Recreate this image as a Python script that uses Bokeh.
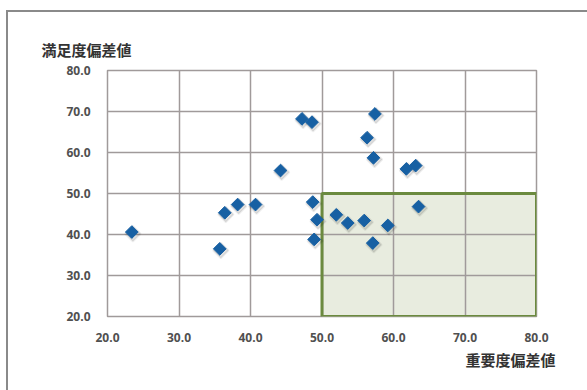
from bokeh.plotting import figure
from bokeh.models import (FixedTicker, PrintfTickFormatter, Range1d, Title,
                          ColumnDataSource)
from bokeh.transform import dodge
from bokeh.embed import file_html
from bokeh.resources import INLINE
import numpy as np

# importance (x) and satisfaction (y) deviation scores per item
importance = [23.4, 35.7, 36.4, 38.2, 40.7,
              44.2, 47.2, 48.6, 57.4, 56.3, 57.2, 61.8, 63.1,
              48.7, 49.3, 48.9, 52.0, 53.6, 55.9, 59.2, 57.1, 63.5]
satisfaction = [40.6, 36.5, 45.3, 47.3, 47.3,
                55.6, 68.2, 67.4, 69.4, 63.6, 58.7, 56.0, 56.8,
                47.9, 43.6, 38.8, 44.8, 42.8, 43.4, 42.2, 37.9, 46.8]

# highlighted zone: high importance, low satisfaction
zone_x = [50.0, 80.0]
zone_y = [20.0, 50.0]

ticks = [20, 30, 40, 50, 60, 70, 80]
x_title = "重要度偏差値"
y_title = "満足度偏差値"

src = ColumnDataSource(dict(x=importance, y=satisfaction))

# the panel sits 6px in / 10px down with a grey top & left border
p = figure(width=581, height=380, output_backend="svg", toolbar_location=None,
           x_range=Range1d(20, 80), y_range=Range1d(20, 80),
           min_border_left=99, min_border_right=53,
           min_border_top=58, min_border_bottom=76,
           styles={"position": "absolute", "left": "6px", "top": "10px",
                   "border-top": "2px solid #8a8a8a",
                   "border-left": "2px solid #8a8a8a"})
p.background_fill_color = "white"
p.border_fill_color = "white"
p.outline_line_color = "#a09a9a"
p.outline_line_width = 1.5

grid_color = "#a09a9a"
for g in (p.xgrid, p.ygrid):
    g.grid_line_color = grid_color
    g.grid_line_width = 1.5
p.xgrid.ticker = FixedTicker(ticks=ticks)
p.ygrid.ticker = FixedTicker(ticks=ticks)

for ax in (p.xaxis, p.yaxis):
    ax.ticker = FixedTicker(ticks=ticks)
    ax.formatter = PrintfTickFormatter(format="%.1f")
    ax.axis_line_color = None
    ax.major_tick_line_color = None
    ax.minor_tick_line_color = None
    ax.major_label_text_font = "Open Sans"
    ax.major_label_text_font_style = "bold"
    ax.major_label_text_font_size = "12px"
    ax.major_label_text_color = "#505050"
p.xaxis.major_label_standoff = 10
p.yaxis.major_label_standoff = 11

# shaded zone sits beneath the grid, its border above
p.quad(left=zone_x[0], right=zone_x[1], bottom=zone_y[0], top=zone_y[1],
       fill_color="#e8ecdf", line_color=None, level="image")
p.quad(left=zone_x[0], right=zone_x[1], bottom=zone_y[0], top=zone_y[1],
       fill_color=None, line_color="#6b8a3f", line_width=3)

# soft drop shadow under each marker, nudged down-right
p.scatter(dodge("x", 0.15), dodge("y", -0.4), source=src, marker="square",
          size=11, angle=np.pi / 4, fill_color="#000000", fill_alpha=0.12,
          line_color="#000000", line_alpha=0.06, line_width=2)
p.scatter("x", "y", source=src, marker="square", size=9, angle=np.pi / 4,
          fill_color="#1760a3", line_color="#1760a3")

p.add_layout(Title(text=y_title, align="left", offset=-66,
                   text_font="Noto Sans CJK JP", text_font_style="bold",
                   text_font_size="15px", text_color="#333333",
                   standoff=22), "above")
p.add_layout(Title(text=x_title, align="right", offset=-19,
                   text_font="Noto Sans CJK JP", text_font_style="bold",
                   text_font_size="15px", text_color="#333333",
                   standoff=4), "below")

open("out.html", "w").write(file_html(p, INLINE))
